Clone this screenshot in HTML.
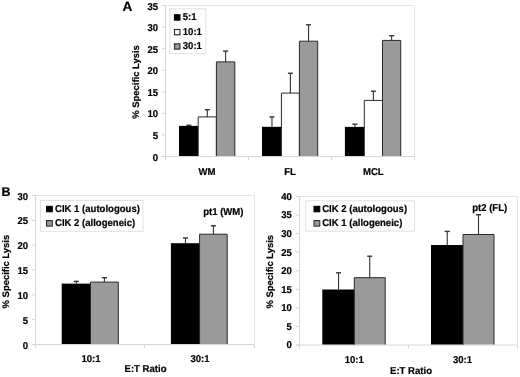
<!DOCTYPE html>
<html><head><meta charset="utf-8"><style>
html,body{margin:0;padding:0;background:#fff;}
body{width:520px;height:377px;overflow:hidden;}
svg{display:block;filter:grayscale(1) blur(0.35px);}
text{font-family:"Liberation Sans",sans-serif;font-weight:bold;fill:#000;text-rendering:geometricPrecision;}
</style></head><body>
<svg width="520" height="377" viewBox="0 0 520 377">
<rect width="520" height="377" fill="#fff"/>
<text transform="translate(122.60 10.80) scale(1.0 1)" font-size="13.6" text-anchor="start" stroke="#000" stroke-width="0.2" font-family="Liberation Sans, sans-serif" font-weight="bold">A</text>
<line x1="165.50" y1="5.50" x2="414.50" y2="5.50" stroke="#e4e4e4" stroke-width="1"/>
<line x1="414.50" y1="5.50" x2="414.50" y2="156.50" stroke="#e4e4e4" stroke-width="1"/>
<line x1="162.00" y1="156.50" x2="165.50" y2="156.50" stroke="#d6d6d6" stroke-width="1"/>
<text transform="translate(158.00 160.50) scale(0.955 1)" font-size="10.0" text-anchor="end" stroke="#000" stroke-width="0.2" font-family="Liberation Sans, sans-serif" font-weight="bold">0</text>
<line x1="162.00" y1="134.93" x2="165.50" y2="134.93" stroke="#d6d6d6" stroke-width="1"/>
<text transform="translate(158.00 138.93) scale(0.955 1)" font-size="10.0" text-anchor="end" stroke="#000" stroke-width="0.2" font-family="Liberation Sans, sans-serif" font-weight="bold">5</text>
<line x1="162.00" y1="113.36" x2="165.50" y2="113.36" stroke="#d6d6d6" stroke-width="1"/>
<text transform="translate(158.00 117.36) scale(0.955 1)" font-size="10.0" text-anchor="end" stroke="#000" stroke-width="0.2" font-family="Liberation Sans, sans-serif" font-weight="bold">10</text>
<line x1="162.00" y1="91.79" x2="165.50" y2="91.79" stroke="#d6d6d6" stroke-width="1"/>
<text transform="translate(158.00 95.79) scale(0.955 1)" font-size="10.0" text-anchor="end" stroke="#000" stroke-width="0.2" font-family="Liberation Sans, sans-serif" font-weight="bold">15</text>
<line x1="162.00" y1="70.21" x2="165.50" y2="70.21" stroke="#d6d6d6" stroke-width="1"/>
<text transform="translate(158.00 74.21) scale(0.955 1)" font-size="10.0" text-anchor="end" stroke="#000" stroke-width="0.2" font-family="Liberation Sans, sans-serif" font-weight="bold">20</text>
<line x1="162.00" y1="48.64" x2="165.50" y2="48.64" stroke="#d6d6d6" stroke-width="1"/>
<text transform="translate(158.00 52.64) scale(0.955 1)" font-size="10.0" text-anchor="end" stroke="#000" stroke-width="0.2" font-family="Liberation Sans, sans-serif" font-weight="bold">25</text>
<line x1="162.00" y1="27.07" x2="165.50" y2="27.07" stroke="#d6d6d6" stroke-width="1"/>
<text transform="translate(158.00 31.07) scale(0.955 1)" font-size="10.0" text-anchor="end" stroke="#000" stroke-width="0.2" font-family="Liberation Sans, sans-serif" font-weight="bold">30</text>
<line x1="162.00" y1="5.50" x2="165.50" y2="5.50" stroke="#d6d6d6" stroke-width="1"/>
<text transform="translate(158.00 9.50) scale(0.955 1)" font-size="10.0" text-anchor="end" stroke="#000" stroke-width="0.2" font-family="Liberation Sans, sans-serif" font-weight="bold">35</text>
<line x1="165.50" y1="156.50" x2="165.50" y2="160.00" stroke="#d6d6d6" stroke-width="1"/>
<line x1="248.50" y1="156.50" x2="248.50" y2="160.00" stroke="#d6d6d6" stroke-width="1"/>
<line x1="331.50" y1="156.50" x2="331.50" y2="160.00" stroke="#d6d6d6" stroke-width="1"/>
<line x1="414.50" y1="156.50" x2="414.50" y2="160.00" stroke="#d6d6d6" stroke-width="1"/>
<line x1="165.50" y1="5.50" x2="165.50" y2="160.00" stroke="#d6d6d6" stroke-width="1"/>
<line x1="162.00" y1="156.50" x2="414.50" y2="156.50" stroke="#d6d6d6" stroke-width="1"/>
<text transform="translate(207.00 175.00) scale(0.955 1)" font-size="10.0" text-anchor="middle" stroke="#000" stroke-width="0.2" font-family="Liberation Sans, sans-serif" font-weight="bold">WM</text>
<text transform="translate(290.00 175.00) scale(0.955 1)" font-size="10.0" text-anchor="middle" stroke="#000" stroke-width="0.2" font-family="Liberation Sans, sans-serif" font-weight="bold">FL</text>
<text transform="translate(373.30 175.00) scale(0.955 1)" font-size="10.0" text-anchor="middle" stroke="#000" stroke-width="0.2" font-family="Liberation Sans, sans-serif" font-weight="bold">MCL</text>
<rect x="179.00" y="125.90" width="19.70" height="30.10" fill="#000"/>
<rect x="198.20" y="116.90" width="18.20" height="39.10" fill="#fff"/>
<path d="M198.20 156.00V116.90H216.40V156.00" fill="none" stroke="#2a2a2a" stroke-width="1"/>
<rect x="216.40" y="61.90" width="18.40" height="94.10" fill="#9a9a9a"/>
<path d="M216.40 156.00V61.90H234.80V156.00" fill="none" stroke="#2a2a2a" stroke-width="1"/>
<line x1="188.85" y1="125.20" x2="188.85" y2="125.90" stroke="#333" stroke-width="1.1"/>
<line x1="186.35" y1="125.20" x2="191.35" y2="125.20" stroke="#333" stroke-width="1.4"/>
<line x1="207.30" y1="109.70" x2="207.30" y2="116.90" stroke="#333" stroke-width="1.1"/>
<line x1="204.80" y1="109.70" x2="209.80" y2="109.70" stroke="#333" stroke-width="1.4"/>
<line x1="225.60" y1="51.10" x2="225.60" y2="61.90" stroke="#333" stroke-width="1.1"/>
<line x1="223.10" y1="51.10" x2="228.10" y2="51.10" stroke="#333" stroke-width="1.4"/>
<rect x="262.00" y="126.80" width="19.90" height="29.20" fill="#000"/>
<rect x="281.40" y="93.10" width="18.00" height="62.90" fill="#fff"/>
<path d="M281.40 156.00V93.10H299.40V156.00" fill="none" stroke="#2a2a2a" stroke-width="1"/>
<rect x="299.40" y="41.20" width="18.30" height="114.80" fill="#9a9a9a"/>
<path d="M299.40 156.00V41.20H317.70V156.00" fill="none" stroke="#2a2a2a" stroke-width="1"/>
<line x1="271.95" y1="116.90" x2="271.95" y2="126.80" stroke="#333" stroke-width="1.1"/>
<line x1="269.45" y1="116.90" x2="274.45" y2="116.90" stroke="#333" stroke-width="1.4"/>
<line x1="290.40" y1="73.30" x2="290.40" y2="93.10" stroke="#333" stroke-width="1.1"/>
<line x1="287.90" y1="73.30" x2="292.90" y2="73.30" stroke="#333" stroke-width="1.4"/>
<line x1="308.55" y1="24.80" x2="308.55" y2="41.20" stroke="#333" stroke-width="1.1"/>
<line x1="306.05" y1="24.80" x2="311.05" y2="24.80" stroke="#333" stroke-width="1.4"/>
<rect x="344.90" y="126.90" width="19.90" height="29.10" fill="#000"/>
<rect x="364.30" y="100.40" width="18.20" height="55.60" fill="#fff"/>
<path d="M364.30 156.00V100.40H382.50V156.00" fill="none" stroke="#2a2a2a" stroke-width="1"/>
<rect x="382.50" y="40.40" width="18.20" height="115.60" fill="#9a9a9a"/>
<path d="M382.50 156.00V40.40H400.70V156.00" fill="none" stroke="#2a2a2a" stroke-width="1"/>
<line x1="354.85" y1="124.20" x2="354.85" y2="126.90" stroke="#333" stroke-width="1.1"/>
<line x1="352.35" y1="124.20" x2="357.35" y2="124.20" stroke="#333" stroke-width="1.4"/>
<line x1="373.40" y1="91.20" x2="373.40" y2="100.40" stroke="#333" stroke-width="1.1"/>
<line x1="370.90" y1="91.20" x2="375.90" y2="91.20" stroke="#333" stroke-width="1.4"/>
<line x1="391.60" y1="35.70" x2="391.60" y2="40.40" stroke="#333" stroke-width="1.1"/>
<line x1="389.10" y1="35.70" x2="394.10" y2="35.70" stroke="#333" stroke-width="1.4"/>
<text transform="translate(139.20 82.00) rotate(-90) scale(1.0 1)" font-size="9.45" text-anchor="middle" stroke="#000" stroke-width="0.2" font-family="Liberation Sans, sans-serif" font-weight="bold">% Specific Lysis</text>
<rect x="170.00" y="8.80" width="35.80" height="44.80" fill="#fff" stroke="#e2e2e2" stroke-width="1"/>
<rect x="174.50" y="14.80" width="5.40" height="5.30" fill="#000" stroke="#000" stroke-width="1.2"/>
<text transform="translate(182.80 20.40) scale(0.955 1)" font-size="10.0" text-anchor="start" stroke="#000" stroke-width="0.2" font-family="Liberation Sans, sans-serif" font-weight="bold">5:1</text>
<rect x="174.50" y="29.50" width="5.40" height="5.30" fill="#fff" stroke="#333" stroke-width="1.2"/>
<text transform="translate(182.80 35.10) scale(0.955 1)" font-size="10.0" text-anchor="start" stroke="#000" stroke-width="0.2" font-family="Liberation Sans, sans-serif" font-weight="bold">10:1</text>
<rect x="174.50" y="43.80" width="5.40" height="5.30" fill="#9a9a9a" stroke="#333" stroke-width="1.2"/>
<text transform="translate(182.80 49.40) scale(0.955 1)" font-size="10.0" text-anchor="start" stroke="#000" stroke-width="0.2" font-family="Liberation Sans, sans-serif" font-weight="bold">30:1</text>
<text transform="translate(1.50 196.00) scale(1.0 1)" font-size="12.5" text-anchor="start" stroke="#000" stroke-width="0.2" font-family="Liberation Sans, sans-serif" font-weight="bold">B</text>
<line x1="35.50" y1="195.50" x2="254.50" y2="195.50" stroke="#e4e4e4" stroke-width="1"/>
<line x1="254.50" y1="195.50" x2="254.50" y2="344.50" stroke="#e4e4e4" stroke-width="1"/>
<line x1="32.00" y1="344.50" x2="35.50" y2="344.50" stroke="#d6d6d6" stroke-width="1"/>
<text transform="translate(28.00 348.50) scale(0.955 1)" font-size="10.0" text-anchor="end" stroke="#000" stroke-width="0.2" font-family="Liberation Sans, sans-serif" font-weight="bold">0</text>
<line x1="32.00" y1="319.67" x2="35.50" y2="319.67" stroke="#d6d6d6" stroke-width="1"/>
<text transform="translate(28.00 323.67) scale(0.955 1)" font-size="10.0" text-anchor="end" stroke="#000" stroke-width="0.2" font-family="Liberation Sans, sans-serif" font-weight="bold">5</text>
<line x1="32.00" y1="294.83" x2="35.50" y2="294.83" stroke="#d6d6d6" stroke-width="1"/>
<text transform="translate(28.00 298.83) scale(0.955 1)" font-size="10.0" text-anchor="end" stroke="#000" stroke-width="0.2" font-family="Liberation Sans, sans-serif" font-weight="bold">10</text>
<line x1="32.00" y1="270.00" x2="35.50" y2="270.00" stroke="#d6d6d6" stroke-width="1"/>
<text transform="translate(28.00 274.00) scale(0.955 1)" font-size="10.0" text-anchor="end" stroke="#000" stroke-width="0.2" font-family="Liberation Sans, sans-serif" font-weight="bold">15</text>
<line x1="32.00" y1="245.17" x2="35.50" y2="245.17" stroke="#d6d6d6" stroke-width="1"/>
<text transform="translate(28.00 249.17) scale(0.955 1)" font-size="10.0" text-anchor="end" stroke="#000" stroke-width="0.2" font-family="Liberation Sans, sans-serif" font-weight="bold">20</text>
<line x1="32.00" y1="220.33" x2="35.50" y2="220.33" stroke="#d6d6d6" stroke-width="1"/>
<text transform="translate(28.00 224.33) scale(0.955 1)" font-size="10.0" text-anchor="end" stroke="#000" stroke-width="0.2" font-family="Liberation Sans, sans-serif" font-weight="bold">25</text>
<line x1="32.00" y1="195.50" x2="35.50" y2="195.50" stroke="#d6d6d6" stroke-width="1"/>
<text transform="translate(28.00 199.50) scale(0.955 1)" font-size="10.0" text-anchor="end" stroke="#000" stroke-width="0.2" font-family="Liberation Sans, sans-serif" font-weight="bold">30</text>
<line x1="35.50" y1="344.50" x2="35.50" y2="348.00" stroke="#d6d6d6" stroke-width="1"/>
<line x1="144.50" y1="344.50" x2="144.50" y2="348.00" stroke="#d6d6d6" stroke-width="1"/>
<line x1="254.50" y1="344.50" x2="254.50" y2="348.00" stroke="#d6d6d6" stroke-width="1"/>
<line x1="35.50" y1="195.50" x2="35.50" y2="348.00" stroke="#d6d6d6" stroke-width="1"/>
<line x1="32.00" y1="344.50" x2="254.50" y2="344.50" stroke="#d6d6d6" stroke-width="1"/>
<text transform="translate(91.00 362.00) scale(0.955 1)" font-size="10.0" text-anchor="middle" stroke="#000" stroke-width="0.2" font-family="Liberation Sans, sans-serif" font-weight="bold">10:1</text>
<text transform="translate(200.00 362.00) scale(0.955 1)" font-size="10.0" text-anchor="middle" stroke="#000" stroke-width="0.2" font-family="Liberation Sans, sans-serif" font-weight="bold">30:1</text>
<rect x="61.70" y="283.60" width="29.30" height="60.40" fill="#000"/>
<rect x="90.50" y="282.10" width="27.80" height="61.90" fill="#9a9a9a"/>
<path d="M90.50 344.00V282.10H118.30V344.00" fill="none" stroke="#2a2a2a" stroke-width="1"/>
<line x1="76.35" y1="281.40" x2="76.35" y2="283.60" stroke="#333" stroke-width="1.1"/>
<line x1="73.85" y1="281.40" x2="78.85" y2="281.40" stroke="#333" stroke-width="1.4"/>
<line x1="104.40" y1="277.70" x2="104.40" y2="282.10" stroke="#333" stroke-width="1.1"/>
<line x1="101.90" y1="277.70" x2="106.90" y2="277.70" stroke="#333" stroke-width="1.4"/>
<rect x="170.90" y="243.20" width="29.20" height="100.80" fill="#000"/>
<rect x="199.60" y="234.20" width="27.60" height="109.80" fill="#9a9a9a"/>
<path d="M199.60 344.00V234.20H227.20V344.00" fill="none" stroke="#2a2a2a" stroke-width="1"/>
<line x1="185.50" y1="238.00" x2="185.50" y2="243.20" stroke="#333" stroke-width="1.1"/>
<line x1="183.00" y1="238.00" x2="188.00" y2="238.00" stroke="#333" stroke-width="1.4"/>
<line x1="213.40" y1="225.80" x2="213.40" y2="234.20" stroke="#333" stroke-width="1.1"/>
<line x1="210.90" y1="225.80" x2="215.90" y2="225.80" stroke="#333" stroke-width="1.4"/>
<text transform="translate(8.90 271.60) rotate(-90) scale(1.0 1)" font-size="9.45" text-anchor="middle" stroke="#000" stroke-width="0.2" font-family="Liberation Sans, sans-serif" font-weight="bold">% Specific Lysis</text>
<rect x="40.50" y="200.50" width="102.50" height="30.80" fill="#fff" stroke="#e2e2e2" stroke-width="1"/>
<rect x="46.50" y="206.30" width="5.80" height="5.50" fill="#000" stroke="#000" stroke-width="1"/>
<text transform="translate(55.00 211.80) scale(0.955 1)" font-size="10.0" text-anchor="start" stroke="#000" stroke-width="0.2" font-family="Liberation Sans, sans-serif" font-weight="bold">CIK 1 (autologous)</text>
<rect x="46.50" y="220.60" width="5.80" height="5.50" fill="#9a9a9a" stroke="#222" stroke-width="1"/>
<text transform="translate(55.00 226.10) scale(0.955 1)" font-size="10.0" text-anchor="start" stroke="#000" stroke-width="0.2" font-family="Liberation Sans, sans-serif" font-weight="bold">CIK 2 (allogeneic)</text>
<text transform="translate(203.20 214.70) scale(0.955 1)" font-size="10.0" text-anchor="start" stroke="#000" stroke-width="0.2" font-family="Liberation Sans, sans-serif" font-weight="bold">pt1 (WM)</text>
<text transform="translate(145.50 372.30) scale(0.955 1)" font-size="10.0" text-anchor="middle" stroke="#000" stroke-width="0.2" font-family="Liberation Sans, sans-serif" font-weight="bold">E:T Ratio</text>
<line x1="299.50" y1="196.50" x2="517.50" y2="196.50" stroke="#e4e4e4" stroke-width="1"/>
<line x1="517.50" y1="196.50" x2="517.50" y2="345.00" stroke="#e4e4e4" stroke-width="1"/>
<line x1="296.00" y1="345.00" x2="299.50" y2="345.00" stroke="#d6d6d6" stroke-width="1"/>
<text transform="translate(291.80 348.40) scale(0.955 1)" font-size="10.0" text-anchor="end" stroke="#000" stroke-width="0.2" font-family="Liberation Sans, sans-serif" font-weight="bold">0</text>
<line x1="296.00" y1="326.44" x2="299.50" y2="326.44" stroke="#d6d6d6" stroke-width="1"/>
<text transform="translate(291.80 329.84) scale(0.955 1)" font-size="10.0" text-anchor="end" stroke="#000" stroke-width="0.2" font-family="Liberation Sans, sans-serif" font-weight="bold">5</text>
<line x1="296.00" y1="307.88" x2="299.50" y2="307.88" stroke="#d6d6d6" stroke-width="1"/>
<text transform="translate(291.80 311.27) scale(0.955 1)" font-size="10.0" text-anchor="end" stroke="#000" stroke-width="0.2" font-family="Liberation Sans, sans-serif" font-weight="bold">10</text>
<line x1="296.00" y1="289.31" x2="299.50" y2="289.31" stroke="#d6d6d6" stroke-width="1"/>
<text transform="translate(291.80 292.71) scale(0.955 1)" font-size="10.0" text-anchor="end" stroke="#000" stroke-width="0.2" font-family="Liberation Sans, sans-serif" font-weight="bold">15</text>
<line x1="296.00" y1="270.75" x2="299.50" y2="270.75" stroke="#d6d6d6" stroke-width="1"/>
<text transform="translate(291.80 274.15) scale(0.955 1)" font-size="10.0" text-anchor="end" stroke="#000" stroke-width="0.2" font-family="Liberation Sans, sans-serif" font-weight="bold">20</text>
<line x1="296.00" y1="252.19" x2="299.50" y2="252.19" stroke="#d6d6d6" stroke-width="1"/>
<text transform="translate(291.80 255.59) scale(0.955 1)" font-size="10.0" text-anchor="end" stroke="#000" stroke-width="0.2" font-family="Liberation Sans, sans-serif" font-weight="bold">25</text>
<line x1="296.00" y1="233.62" x2="299.50" y2="233.62" stroke="#d6d6d6" stroke-width="1"/>
<text transform="translate(291.80 237.03) scale(0.955 1)" font-size="10.0" text-anchor="end" stroke="#000" stroke-width="0.2" font-family="Liberation Sans, sans-serif" font-weight="bold">30</text>
<line x1="296.00" y1="215.06" x2="299.50" y2="215.06" stroke="#d6d6d6" stroke-width="1"/>
<text transform="translate(291.80 218.46) scale(0.955 1)" font-size="10.0" text-anchor="end" stroke="#000" stroke-width="0.2" font-family="Liberation Sans, sans-serif" font-weight="bold">35</text>
<line x1="296.00" y1="196.50" x2="299.50" y2="196.50" stroke="#d6d6d6" stroke-width="1"/>
<text transform="translate(291.80 199.90) scale(0.955 1)" font-size="10.0" text-anchor="end" stroke="#000" stroke-width="0.2" font-family="Liberation Sans, sans-serif" font-weight="bold">40</text>
<line x1="299.50" y1="345.00" x2="299.50" y2="348.50" stroke="#d6d6d6" stroke-width="1"/>
<line x1="408.50" y1="345.00" x2="408.50" y2="348.50" stroke="#d6d6d6" stroke-width="1"/>
<line x1="517.50" y1="345.00" x2="517.50" y2="348.50" stroke="#d6d6d6" stroke-width="1"/>
<line x1="299.50" y1="196.50" x2="299.50" y2="348.50" stroke="#d6d6d6" stroke-width="1"/>
<line x1="296.00" y1="345.00" x2="517.50" y2="345.00" stroke="#d6d6d6" stroke-width="1"/>
<text transform="translate(354.20 363.30) scale(0.955 1)" font-size="10.0" text-anchor="middle" stroke="#000" stroke-width="0.2" font-family="Liberation Sans, sans-serif" font-weight="bold">10:1</text>
<text transform="translate(462.50 363.30) scale(0.955 1)" font-size="10.0" text-anchor="middle" stroke="#000" stroke-width="0.2" font-family="Liberation Sans, sans-serif" font-weight="bold">30:1</text>
<rect x="322.30" y="289.50" width="32.50" height="55.00" fill="#000"/>
<rect x="354.30" y="277.70" width="30.90" height="66.80" fill="#9a9a9a"/>
<path d="M354.30 344.50V277.70H385.20V344.50" fill="none" stroke="#2a2a2a" stroke-width="1"/>
<line x1="338.55" y1="272.80" x2="338.55" y2="289.50" stroke="#333" stroke-width="1.1"/>
<line x1="336.05" y1="272.80" x2="341.05" y2="272.80" stroke="#333" stroke-width="1.4"/>
<line x1="369.75" y1="256.20" x2="369.75" y2="277.70" stroke="#333" stroke-width="1.1"/>
<line x1="367.25" y1="256.20" x2="372.25" y2="256.20" stroke="#333" stroke-width="1.4"/>
<rect x="431.00" y="245.00" width="32.50" height="99.50" fill="#000"/>
<rect x="463.00" y="234.50" width="31.00" height="110.00" fill="#9a9a9a"/>
<path d="M463.00 344.50V234.50H494.00V344.50" fill="none" stroke="#2a2a2a" stroke-width="1"/>
<line x1="447.25" y1="231.40" x2="447.25" y2="245.00" stroke="#333" stroke-width="1.1"/>
<line x1="444.75" y1="231.40" x2="449.75" y2="231.40" stroke="#333" stroke-width="1.4"/>
<line x1="478.50" y1="214.70" x2="478.50" y2="234.50" stroke="#333" stroke-width="1.1"/>
<line x1="476.00" y1="214.70" x2="481.00" y2="214.70" stroke="#333" stroke-width="1.4"/>
<text transform="translate(272.60 271.70) rotate(-90) scale(1.0 1)" font-size="9.45" text-anchor="middle" stroke="#000" stroke-width="0.2" font-family="Liberation Sans, sans-serif" font-weight="bold">% Specific Lysis</text>
<rect x="305.80" y="200.80" width="108.70" height="30.40" fill="#fff" stroke="#e2e2e2" stroke-width="1"/>
<rect x="314.00" y="206.30" width="5.80" height="5.50" fill="#000" stroke="#000" stroke-width="1"/>
<text transform="translate(322.20 211.90) scale(0.955 1)" font-size="10.0" text-anchor="start" stroke="#000" stroke-width="0.2" font-family="Liberation Sans, sans-serif" font-weight="bold">CIK 2 (autologous)</text>
<rect x="314.00" y="220.60" width="5.80" height="5.50" fill="#9a9a9a" stroke="#222" stroke-width="1"/>
<text transform="translate(322.20 225.90) scale(0.955 1)" font-size="10.0" text-anchor="start" stroke="#000" stroke-width="0.2" font-family="Liberation Sans, sans-serif" font-weight="bold">CIK 1 (allogeneic)</text>
<text transform="translate(472.20 211.00) scale(0.955 1)" font-size="10.0" text-anchor="start" stroke="#000" stroke-width="0.2" font-family="Liberation Sans, sans-serif" font-weight="bold">pt2 (FL)</text>
<text transform="translate(411.00 374.20) scale(0.955 1)" font-size="10.0" text-anchor="middle" stroke="#000" stroke-width="0.2" font-family="Liberation Sans, sans-serif" font-weight="bold">E:T Ratio</text>
</svg>
</body></html>
